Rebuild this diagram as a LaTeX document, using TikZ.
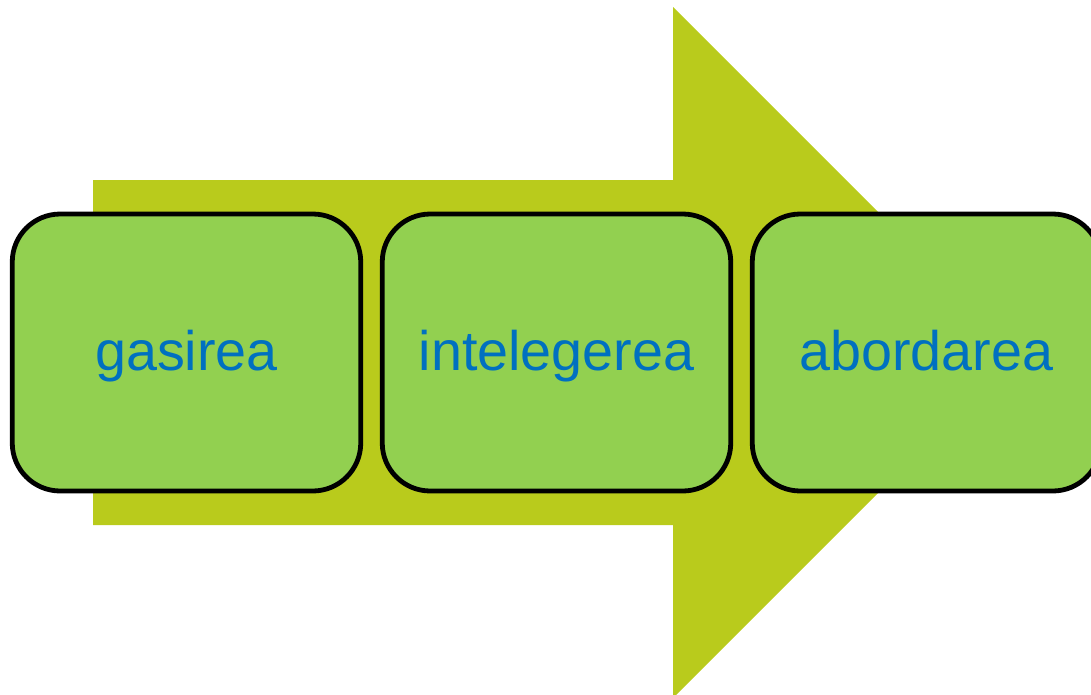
\documentclass[tikz,border=0pt]{standalone}
\usepackage{fontspec}
\setmainfont{Liberation Sans}
\definecolor{arrowc}{HTML}{B9CB1C}
\definecolor{boxc}{HTML}{92D050}
\definecolor{textc}{HTML}{0070C0}
\begin{document}
\begin{tikzpicture}[x=1pt,y=-1pt,
  stagebox/.style={draw=black, line width=4.8pt, fill=boxc, rounded corners=48pt,
    minimum width=348.5pt, minimum height=277pt, inner sep=0pt,
    text height=35pt, text depth=0pt,
    text=textc, font=\fontsize{55.7}{60}\selectfont}]
\useasboundingbox (0,0) rectangle (1091,694);
\clip (0,0) rectangle (1091,694);
\fill[arrowc] (93,180) -- (673,180) -- (673,7) -- (1018.5,352.5) -- (673,698) -- (673,525) -- (93,525) -- cycle;
\node[stagebox] (a) at (186.5,352.5) {gasirea};
\node[stagebox] (b) at (556.5,352.5) {intelegerea};
\node[stagebox] (c) at (926.5,352.5) {abordarea};
\end{tikzpicture}
\end{document}
